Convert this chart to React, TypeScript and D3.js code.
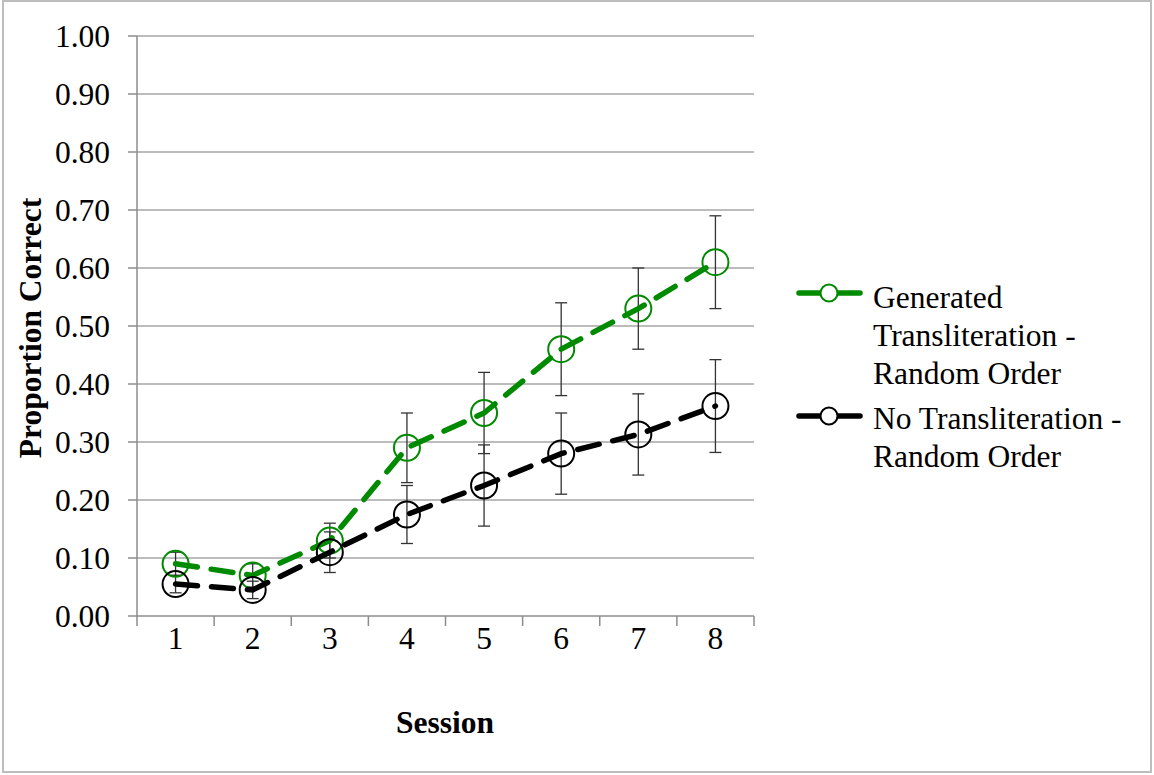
import React from "react";
import * as d3 from "d3";

const sessions = ["1", "2", "3", "4", "5", "6", "7", "8"];
const generatedMean = [0.09, 0.07, 0.13, 0.29, 0.35, 0.46, 0.53, 0.61];
const generatedErr = [0.02, 0.02, 0.03, 0.06, 0.07, 0.08, 0.07, 0.08];
const noTransMean = [0.055, 0.045, 0.11, 0.175, 0.225, 0.28, 0.313, 0.362];
const noTransErr = [0.015, 0.015, 0.035, 0.05, 0.07, 0.07, 0.07, 0.08];
const yTicks = [0, 0.1, 0.2, 0.3, 0.4, 0.5, 0.6, 0.7, 0.8, 0.9, 1.0];

const seriesList = [
  { name: ["Generated", "Transliteration -", "Random Order"], mean: generatedMean, err: generatedErr, color: "#008a00" },
  { name: ["No Transliteration -", "Random Order"], mean: noTransMean, err: noTransErr, color: "#000000" },
];

export default function App() {
  const W = 1154, H = 775;
  const left = 137, right = 754, top = 36, bottom = 616;
  const x = d3.scaleBand<string>().domain(sessions).range([left, right]).padding(0);
  const y = d3.scaleLinear().domain([0, 1]).range([bottom, top]);
  const cx = (s: string) => (x(s) as number) + x.bandwidth() / 2;
  const font = "'Liberation Serif', 'Times New Roman', serif";
  const line = d3.line<number>().x((_, i) => cx(sessions[i])).y((d) => y(d));
  const boundaries = d3.range(sessions.length + 1).map((i) => left + i * x.bandwidth());
  const legendY = [293, 416];
  const lineStarts = [297, 418];
  const lh = 38;
  const fs = 31.5;

  return (
    <svg width={W} height={H} style={{ position: "absolute", left: 0, top: 0, background: "#fff" }} fontFamily={font}>
      <rect x={3} y={1} width={1148} height={771} fill="#fff" stroke="#bdbdbd" strokeWidth={2} />
      {yTicks.map((t) => (
        <g key={t}>
          {t > 0 && <line x1={left} x2={right} y1={y(t)} y2={y(t)} stroke="#a6a6a6" strokeWidth={1.5} />}
          <line x1={128} x2={left} y1={y(t)} y2={y(t)} stroke="#8c8c8c" strokeWidth={1.5} />
          <text x={110} y={y(t)} dy="0.35em" textAnchor="end" fontSize={fs} fill="#000">{t.toFixed(2)}</text>
        </g>
      ))}
      <line x1={left} x2={left} y1={top} y2={bottom} stroke="#8c8c8c" strokeWidth={1.5} />
      <line x1={left} x2={right} y1={bottom} y2={bottom} stroke="#8c8c8c" strokeWidth={1.5} />
      {boundaries.map((b, i) => (
        <line key={i} x1={b} x2={b} y1={bottom} y2={626} stroke="#8c8c8c" strokeWidth={1.5} />
      ))}
      {sessions.map((s) => (
        <text key={s} x={cx(s)} y={638} dy="0.35em" textAnchor="middle" fontSize={fs}>{s}</text>
      ))}
      <text x={445} y={722} dy="0.35em" textAnchor="middle" fontSize={fs} fontWeight="bold">Session</text>
      <text transform={`translate(30,${(top + bottom) / 2 + 2}) rotate(-90)`} dy="0.35em" textAnchor="middle" fontSize={fs} fontWeight="bold">Proportion Correct</text>

      {seriesList.map((ser, si) => (
        <g key={si}>
          {ser.mean.map((m, i) => {
            const px = cx(sessions[i]);
            const e = ser.err[i];
            return (
              <g key={i} stroke="#333" strokeWidth={1.3}>
                <line x1={px} x2={px} y1={y(m - e)} y2={y(m + e)} />
                <line x1={px - 6} x2={px + 6} y1={y(m - e)} y2={y(m - e)} />
                <line x1={px - 6} x2={px + 6} y1={y(m + e)} y2={y(m + e)} />
              </g>
            );
          })}
        </g>
      ))}
      {seriesList.map((ser, si) => (
        <g key={si}>
          {ser.mean.map((m, i) => (
            <circle key={i} cx={cx(sessions[i])} cy={y(m)} r={13} fill="none" stroke={ser.color} strokeWidth={2} />
          ))}
          <path d={line(ser.mean) || ""} fill="none" stroke={ser.color} strokeWidth={5.5} strokeDasharray="22 14" strokeLinecap="round" />
        </g>
      ))}

      {seriesList.map((ser, si) => (
        <g key={si}>
          <line x1={799} x2={860} y1={legendY[si]} y2={legendY[si]} stroke={ser.color} strokeWidth={5.5} strokeLinecap="round" />
          <circle cx={829} cy={legendY[si]} r={8.5} fill="#fff" stroke={ser.color} strokeWidth={2} />
          {ser.name.map((t, k) => (
            <text key={k} x={873} y={lineStarts[si] + k * lh} dy="0.35em" fontSize={fs}>{t}</text>
          ))}
        </g>
      ))}
    </svg>
  );
}
